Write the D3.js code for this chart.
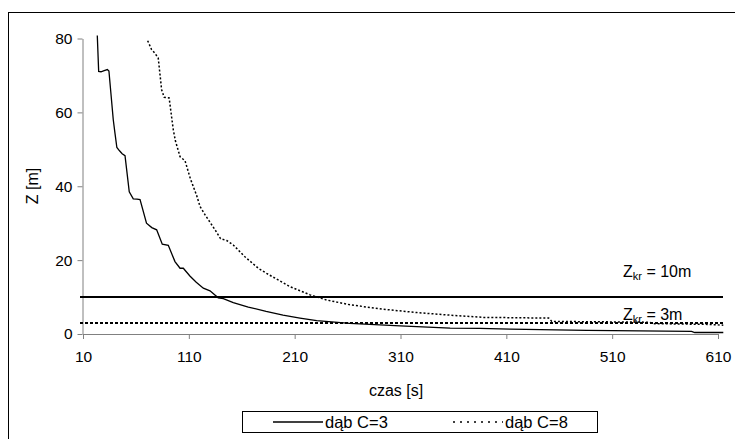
<!DOCTYPE html>
<html>
<head>
<meta charset="utf-8">
<script src="https://cdn.jsdelivr.net/npm/d3@7"></script>
<style>
  body { margin: 0; background: #fff; }
  svg { font-family: Arial, "Liberation Sans", sans-serif; }
</style>
</head>
<body>
<div id="chart"></div>
<script>
// time [s] and Z [m]
const c3Time = [23.5, 24.8, 27, 30, 33, 34.5, 38.6, 40.2, 42, 44.5, 47, 49.7, 53.7, 57.5, 61, 63.9, 70, 75, 79.6, 84.9, 90.6, 96.9, 101.7, 104.8, 111, 117, 123.7, 130, 137.8, 142.6, 152, 166.2, 183, 199, 215, 230.8, 262, 309.6, 356.9, 385, 413.6, 486, 585, 588, 615];
const c3Z    = [80.8, 71.1, 71.0, 71.3, 71.6, 71.2, 58.0, 54.4, 50.5, 49.6, 48.8, 48.3, 38.5, 36.6, 36.5, 36.4, 30.0, 28.8, 28.2, 24.3, 24.0, 19.6, 17.8, 17.8, 15.7, 14.0, 12.4, 11.7, 9.8, 9.6, 8.5, 7.3, 6.1, 5.1, 4.3, 3.6, 2.9, 2.2, 1.6, 1.5, 1.3, 1.0, 0.7, 0.4, 0.4];

const c8Time = [71.1, 74.8, 78, 81.1, 84.3, 86.7, 91.4, 95.3, 97.3, 101.7, 106.4, 111.5, 117.4, 120.6, 125.5, 134.8, 140, 145.8, 152, 163, 175.7, 183.5, 205.7, 224.6, 240.3, 262.4, 293.9, 325.5, 356.9, 388.4, 420, 450, 453, 500, 545, 550, 600, 615];
const c8Z    = [79.4, 77.0, 76.0, 74.7, 66.1, 64.1, 63.9, 55.3, 52.3, 48.0, 46.9, 42.0, 37.5, 34.5, 32.2, 28.2, 25.8, 25.3, 24.1, 20.9, 17.8, 16.4, 12.8, 10.6, 9.2, 7.9, 6.7, 5.8, 5.1, 4.5, 4.4, 4.3, 3.4, 3.3, 3.2, 2.8, 2.6, 2.4];

const xTicks = [10, 110, 210, 310, 410, 510, 610];
const yTicks = [0, 20, 40, 60, 80];
const limits = [10, 3];
const seriesNames = ["dąb C=3", "dąb C=8"];

const W = 735, H = 439;
const svg = d3.select("#chart").append("svg")
  .attr("width", W).attr("height", H);

// outer frame (right and bottom fall outside the picture)
svg.append("rect")
  .attr("x", 8.5).attr("y", 12.5)
  .attr("width", 740).attr("height", 440)
  .attr("fill", "none").attr("stroke", "#000").attr("stroke-width", 1);

const x = d3.scaleLinear().domain([10, 610]).range([83, 718]);
const y = d3.scaleLinear().domain([0, 80]).range([334, 38.5]);

const xAxis = svg.append("g")
  .attr("transform", `translate(0,${y(0)})`)
  .call(d3.axisBottom(x).tickValues(xTicks).tickSize(5).tickSizeOuter(0).tickPadding(12));
const yAxis = svg.append("g")
  .attr("transform", `translate(${x(10) - 0.5},0)`)
  .call(d3.axisLeft(y).tickValues(yTicks).tickSize(5).tickSizeOuter(0).tickPadding(5));

[xAxis, yAxis].forEach(a => {
  a.select(".domain").attr("stroke", "#808080");
  a.selectAll(".tick line").attr("stroke", "#808080");
  a.selectAll(".tick text").attr("fill", "#000").style("font-size", "15.5px").style("font-family", "Arial, 'Liberation Sans', sans-serif");
});

// critical levels
svg.append("line")
  .attr("x1", 80).attr("x2", 723)
  .attr("y1", y(limits[0])).attr("y2", y(limits[0]))
  .attr("stroke", "#000").attr("stroke-width", 2);
svg.append("line")
  .attr("x1", 80).attr("x2", 723)
  .attr("y1", y(limits[1])).attr("y2", y(limits[1]))
  .attr("stroke", "#000").attr("stroke-width", 2)
  .attr("stroke-dasharray", "3,2");

const line = d3.line().x(d => x(d[0])).y(d => y(d[1]));

svg.append("path")
  .datum(d3.zip(c3Time, c3Z))
  .attr("d", line)
  .attr("fill", "none").attr("stroke", "#000").attr("stroke-width", 1.3);

svg.append("path")
  .datum(d3.zip(c8Time, c8Z))
  .attr("d", line)
  .attr("fill", "none").attr("stroke", "#000").attr("stroke-width", 1.5)
  .attr("stroke-dasharray", "2,2");

// labels for the levels
function levelLabel(value, yy) {
  const t = svg.append("text").attr("x", 623).attr("y", yy).style("font-size", "16px");
  t.append("tspan").text("Z");
  t.append("tspan").attr("dy", 3).style("font-size", "11px").text("kr");
  t.append("tspan").attr("dy", -3).text(` = ${value}m`);
}
levelLabel(limits[0], 277);
levelLabel(limits[1], 320);

// axis titles
svg.append("text")
  .attr("x", 396).attr("y", 396)
  .attr("text-anchor", "middle").style("font-size", "16px")
  .text("czas [s]");
svg.append("text")
  .attr("transform", "translate(38,186) rotate(-90)")
  .attr("text-anchor", "middle").style("font-size", "16px")
  .text("Z [m]");

// legend
const legend = svg.append("g");
legend.append("rect")
  .attr("x", 242.5).attr("y", 411.5).attr("width", 355).attr("height", 21)
  .attr("fill", "#fff").attr("stroke", "#000");
legend.append("line")
  .attr("x1", 273).attr("x2", 323).attr("y1", 422).attr("y2", 422)
  .attr("stroke", "#000").attr("stroke-width", 1.3);
legend.append("line")
  .attr("x1", 453).attr("x2", 503).attr("y1", 422).attr("y2", 422)
  .attr("stroke", "#000").attr("stroke-width", 1.5).attr("stroke-dasharray", "2,5");
legend.selectAll("text.lg")
  .data(seriesNames)
  .join("text")
  .attr("class", "lg")
  .attr("x", (d, i) => i === 0 ? 325 : 505)
  .attr("y", 427.5)
  .style("font-size", "16.5px")
  .text(d => d);
</script>
</body>
</html>
